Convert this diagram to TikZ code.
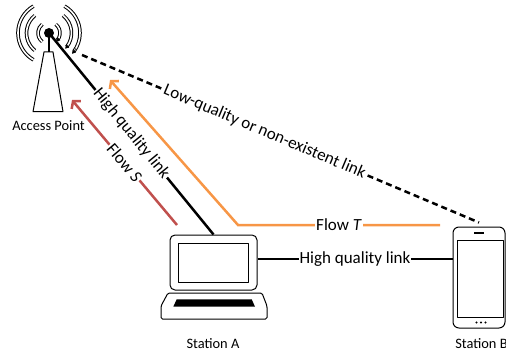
\documentclass[tikz,border=0pt]{standalone}
\usepackage{fontspec}
\setmainfont{Carlito}
\usetikzlibrary{arrows.meta,calc}
\definecolor{flowS}{HTML}{C0504D}
\definecolor{flowT}{HTML}{F79646}
\begin{document}
\begin{tikzpicture}[x=1pt,y=-1pt,
  link/.style={line width=2.5pt},
  lbl/.style={fill=white,text=black,inner sep=1pt,font=\fontsize{17}{20}\selectfont},
  caption/.style={font=\fontsize{14.4}{17}\selectfont,anchor=base,inner sep=0pt},
  outline/.style={line width=1pt,line join=round},
  wave/.style={line width=3.6pt,postaction={draw=white,line width=1.6pt}},
  flowarrow/.style={line width=2.5pt,-{Straight Barb[length=5pt,width=12pt]}},
  ]
\useasboundingbox (0,0) rectangle (506,350);

% devices (shapes as nodes)
\node[draw,outline,rounded corners=5pt,minimum width=87pt,minimum height=55pt,inner sep=0pt] (lap) at (213.5,262.5) {};
\node[draw,outline,rounded corners=6pt,minimum width=52pt,minimum height=101pt,inner sep=0pt] (phone) at (479,277.5) {};
\node[circle,fill=black,inner sep=0pt,minimum size=10pt] (ap) at (49,33) {};

% antenna waves
\foreach \rad/\ang in {11/52,22.5/51,31/60}
  \draw[wave] (ap.center) ++(180-\ang:\rad) arc (180-\ang:180+\ang:\rad);
\foreach \rad/\ang/\angb in {11/52/42,22.5/51/38,31/60/36}{
  \draw[wave] (ap.center) ++(-\ang:\rad) arc (-\ang:\angb:\rad);
  \draw[line width=0.6pt,-{Triangle[length=3.5pt,width=4pt]}] (ap.center) ++(\angb-6:\rad) arc (\angb-6:\angb+6:\rad);
}
% tower
\draw[outline] (44,52) -- (53,52) -- (63,111.7) -- (33,111.7) -- cycle;
\draw[line width=2pt] (ap.center) -- (49,52);
\node[caption] (apl) at (48.5,130.5) {Access Point};

% laptop details
\draw[outline] (178,243) rectangle (248,282);
\draw[outline,rounded corners=1.5pt] (168,293) -- (262,293) -- (267,306) -- (267,319) -- (161,319) -- (161,306) -- cycle;
\fill (176.7,299.3) -- (251.7,299.3) -- (255,306.7) -- (173.3,306.7) -- cycle;
\node[caption] (sal) at (213,348) {Station A};

% phone details
\draw[outline] (457,240) rectangle (503,317);
\draw[line width=1.5pt] (474,233) -- (484,233);
\foreach \px in {476.5,481,485.5} \fill (\px,322.5) circle (1.2);
\node[caption] (sbl) at (481.5,348) {Station B};

% links
\coordinate (dS) at (82,55);
\draw[link,dash pattern=on 6pt off 4pt] (dS) -- node[lbl,sloped,pos=0.46] {Low-quality or non-existent link} ([yshift=4pt]phone.north);
\draw[link] (ap.center) -- node[lbl,sloped] {High quality link} (lap.north);
\coordinate (laR) at ([yshift=3.5pt]lap.east);
\draw[link] (laR) -- node[lbl] {High quality link} (laR -| phone.west);

% flows
\coordinate (sA) at (177,225);
\coordinate (sTip) at (72,100);
\draw[flowarrow,flowS] (sA) -- node[lbl,sloped] {Flow \textit{S}} (sTip);
\coordinate (tEnd) at (440,225);
\coordinate (tBend) at (238,225);
\coordinate (tTip) at (110,80);
\draw[flowarrow,flowT] (tEnd) -- node[lbl] {Flow \textit{T}} (tBend) -- (tTip);
\end{tikzpicture}
\end{document}
